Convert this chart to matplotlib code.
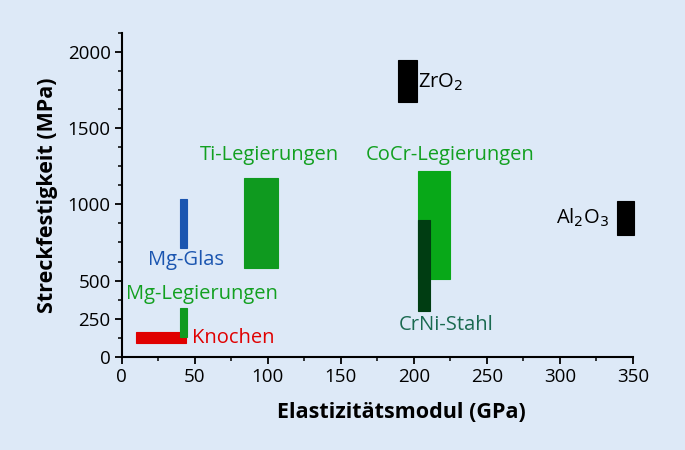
import matplotlib
matplotlib.use("Agg")
import matplotlib.pyplot as plt
from matplotlib.ticker import MultipleLocator, FixedLocator

plt.rcParams['font.family'] = ['Open Sans', 'DejaVu Sans']

# Material ranges
materials = ["Knochen", "Mg-Legierungen", "Mg-Glas", "Ti-Legierungen",
             "CoCr-Legierungen", "CrNi-Stahl", "ZrO2", "Al2O3"]
e_min = [10, 40, 40, 84, 203, 203, 189, 339]
e_max = [44, 45, 45, 107, 225, 211, 202, 351]
s_min = [90, 130, 715, 584, 510, 300, 1670, 800]
s_max = [160, 320, 1035, 1173, 1220, 900, 1950, 1025]
colors = ["#e00000", "#0f9a1f", "#1a55b0", "#0f9a1f",
          "#08a818", "#003d12", "#000000", "#000000"]

labels = ["Knochen", "Mg-Legierungen", "Mg-Glas", "Ti-Legierungen",
          "CoCr-Legierungen", "CrNi-Stahl", "ZrO$_2$", "Al$_2$O$_3$"]
label_x = [48, 55, 44, 101, 225, 222, 203, 334]
label_y = [122, 410, 634, 1322, 1322, 206, 1800, 910]
label_ha = ["left", "center", "center", "center", "center", "center", "left", "right"]
label_colors = ["#e00000", "#12a020", "#1a55b0", "#12a020",
                "#12a020", "#1a6a50", "#000000", "#000000"]

x_ticks = [0, 50, 100, 150, 200, 250, 300, 350]
y_ticks = [0, 250, 500, 1000, 1500, 2000]

bg = "#dde9f7"
fig = plt.figure(figsize=(6.85, 4.5), dpi=100, facecolor=bg)
ax = fig.add_axes([0.1777, 0.2073, 0.924 - 0.1777, 0.9267 - 0.2073])
ax.set_facecolor(bg)

for i in range(len(materials)):
    w = e_max[i] - e_min[i]
    h = s_max[i] - s_min[i]
    rect = plt.Rectangle((e_min[i], s_min[i]), w, h, facecolor=colors[i],
                         edgecolor=colors[i], linewidth=0.8, clip_on=False,
                         zorder=3 if i != 5 else 4)
    ax.add_patch(rect)

for i in range(len(labels)):
    ax.text(label_x[i], label_y[i], labels[i], color=label_colors[i],
            ha=label_ha[i], va="center", fontsize=14.5, zorder=5)

ax.set_xlim(0, 350)
ax.set_ylim(0, 2125)
ax.xaxis.set_major_locator(FixedLocator(x_ticks))
ax.xaxis.set_minor_locator(MultipleLocator(25))
ax.yaxis.set_major_locator(FixedLocator(y_ticks))
ax.yaxis.set_minor_locator(MultipleLocator(125))
ax.tick_params(axis='both', which='major', length=5, width=1.3,
               labelsize=13.5, colors='black', direction='out', pad=3)
ax.tick_params(axis='both', which='minor', length=3, width=1.1, direction='out')

for s in ['top', 'right']:
    ax.spines[s].set_visible(False)
for s in ['left', 'bottom']:
    ax.spines[s].set_linewidth(1.5)

ax.set_xlabel("Elastizitätsmodul (GPa)", fontsize=15.5, fontweight='bold', labelpad=12)
ax.xaxis.label.set_x(0.548)
ax.set_ylabel("Streckfestigkeit (MPa)", fontsize=15.5, fontweight='bold', labelpad=7)

fig.savefig("out.png", dpi=100, facecolor=bg)
